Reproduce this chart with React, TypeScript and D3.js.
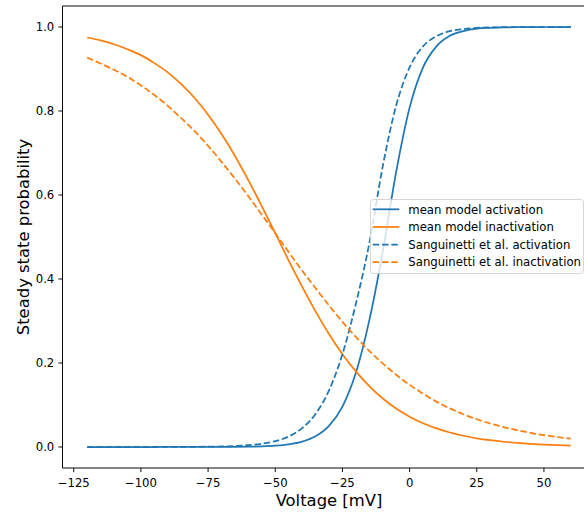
import React from "react";
import * as d3 from "d3";

const voltages = [
  -120, -115, -110, -105, -100, -95, -90, -85, -80, -75, -70, -65, -60, -55, -50, -45, -40, -35, -30,
  -25, -20, -15, -10, -5, 0, 5, 10, 15, 20, 25, 30, 35, 40, 45, 50, 55, 60,
];

const meanActivation = [
  0.0, 0.0, 0.0, 0.0, 0.0, 0.0, 0.00001, 0.00002, 0.00005, 0.0001, 0.0002, 0.0004, 0.0008, 0.0016,
  0.0032, 0.0064, 0.0129, 0.0256, 0.0503, 0.0962, 0.1766, 0.3015, 0.465, 0.655, 0.808, 0.904, 0.954,
  0.979, 0.99, 0.996, 0.998, 0.999, 0.9996, 0.9998, 1.0, 1.0, 1.0,
];

const meanInactivation = [
  0.975, 0.968, 0.959, 0.947, 0.933, 0.914, 0.892, 0.864, 0.831, 0.791, 0.745, 0.693, 0.635, 0.573,
  0.509, 0.444, 0.382, 0.323, 0.269, 0.221, 0.18, 0.145, 0.1155, 0.0916, 0.0722, 0.0566, 0.0443,
  0.0345, 0.0268, 0.0208, 0.0162, 0.0125, 0.0097, 0.0075, 0.0058, 0.0045, 0.0035,
];

const sangActivation = [
  0.0, 0.000005, 0.00001, 0.00002, 0.00004, 0.00006, 0.00012, 0.0002, 0.0004, 0.0007, 0.0013, 0.0023,
  0.0042, 0.0077, 0.0139, 0.0251, 0.0448, 0.0787, 0.1347, 0.221, 0.341, 0.485, 0.668, 0.813, 0.904,
  0.954, 0.978, 0.99, 0.995, 0.998, 0.999, 0.9995, 1.0, 1.0, 1.0, 1.0, 1.0,
];

const sangInactivation = [
  0.927, 0.913, 0.898, 0.881, 0.861, 0.838, 0.812, 0.783, 0.752, 0.717, 0.679, 0.639, 0.597, 0.553,
  0.509, 0.464, 0.42, 0.378, 0.337, 0.298, 0.262, 0.229, 0.199, 0.172, 0.148, 0.127, 0.108, 0.092,
  0.078, 0.066, 0.056, 0.0474, 0.04, 0.0337, 0.0283, 0.0238, 0.02,
];

const seriesNames = [
  "mean model activation",
  "mean model inactivation",
  "Sanguinetti et al. activation",
  "Sanguinetti et al. inactivation",
];
const seriesColors = ["#1f77b4", "#ff7f0e", "#1f77b4", "#ff7f0e"];
const seriesDashed = [false, false, true, true];
const seriesValues = [meanActivation, meanInactivation, sangActivation, sangInactivation];

const xTicks = [-125, -100, -75, -50, -25, 0, 25, 50];
const yTicks = [0.0, 0.2, 0.4, 0.6, 0.8, 1.0];

const W = 584;
const H = 512;
const FONT = "DejaVu Sans, sans-serif";
const TICK_FONT = 11.7;
const LABEL_FONT = 16.4;
const LW = 1.75;
const DASH = "6.5,2.8";

export default function App() {
  const x = d3.scaleLinear().domain([-129, 69]).range([63, 595]);
  const y = d3.scaleLinear().domain([-0.05, 1.05]).range([468, 6]);
  const line = d3
    .line<[number, number]>()
    .x((d) => x(d[0]))
    .y((d) => y(d[1]))
    .curve(d3.curveMonotoneX);

  const fmtX = (v: number) => (v < 0 ? "\u2212" + Math.abs(v) : String(v));

  const legendX = 370;
  const legendY = 199.5;
  const legendW = 213;
  const legendH = 74;
  const rowY = [209.3, 227, 244.5, 262];

  return (
    <div style={{ position: "fixed", left: 0, top: 0 }}>
      <svg width={W} height={H} style={{ display: "block", background: "#fff" }} fontFamily={FONT}>
        <rect x={0} y={0} width={W} height={H} fill="#fff" />
        {seriesValues.map((vals, i) => (
          <path
            key={i}
            d={line(voltages.map((v, j) => [v, vals[j]] as [number, number])) || ""}
            fill="none"
            stroke={seriesColors[i]}
            strokeWidth={LW}
            strokeDasharray={seriesDashed[i] ? DASH : undefined}
          />
        ))}
        {/* spines */}
        <line x1={62.5} x2={62.5} y1={6} y2={468} stroke="#000" strokeWidth={0.95} />
        <line x1={62.5} x2={W} y1={6} y2={6} stroke="#000" strokeWidth={0.95} />
        <line x1={62.5} x2={W} y1={468} y2={468} stroke="#000" strokeWidth={0.95} />
        {/* x ticks */}
        {xTicks.map((t) => (
          <g key={"x" + t}>
            <line x1={x(t)} x2={x(t)} y1={468} y2={472.1} stroke="#000" strokeWidth={0.95} />
            <text x={x(t)} y={486.5} textAnchor="middle" fontSize={TICK_FONT} fill="#000">
              {fmtX(t)}
            </text>
          </g>
        ))}
        {/* y ticks */}
        {yTicks.map((t) => (
          <g key={"y" + t}>
            <line x1={58.4} x2={62.5} y1={y(t)} y2={y(t)} stroke="#000" strokeWidth={0.95} />
            <text x={54.3} y={y(t) + 4.3} textAnchor="end" fontSize={TICK_FONT} fill="#000">
              {t.toFixed(1)}
            </text>
          </g>
        ))}
        <text x={329} y={506} textAnchor="middle" fontSize={LABEL_FONT} fill="#000">
          Voltage [mV]
        </text>
        <text
          transform={`translate(29,237) rotate(-90)`}
          textAnchor="middle"
          fontSize={LABEL_FONT}
          fill="#000"
        >
          Steady state probability
        </text>
        {/* legend */}
        <rect
          x={legendX + 0.5}
          y={legendY}
          width={legendW}
          height={legendH}
          rx={3}
          fill="#fff"
          fillOpacity={0.8}
          stroke="#cccccc"
          strokeOpacity={0.8}
          strokeWidth={1}
        />
        {seriesNames.map((name, i) => (
          <g key={"l" + i}>
            <line
              x1={372.7}
              x2={399.3}
              y1={rowY[i]}
              y2={rowY[i]}
              stroke={seriesColors[i]}
              strokeWidth={LW}
              strokeDasharray={seriesDashed[i] ? DASH : undefined}
            />
            <text x={408.3} y={rowY[i] + 4.2} fontSize={TICK_FONT} fill="#000">
              {name}
            </text>
          </g>
        ))}
      </svg>
    </div>
  );
}
